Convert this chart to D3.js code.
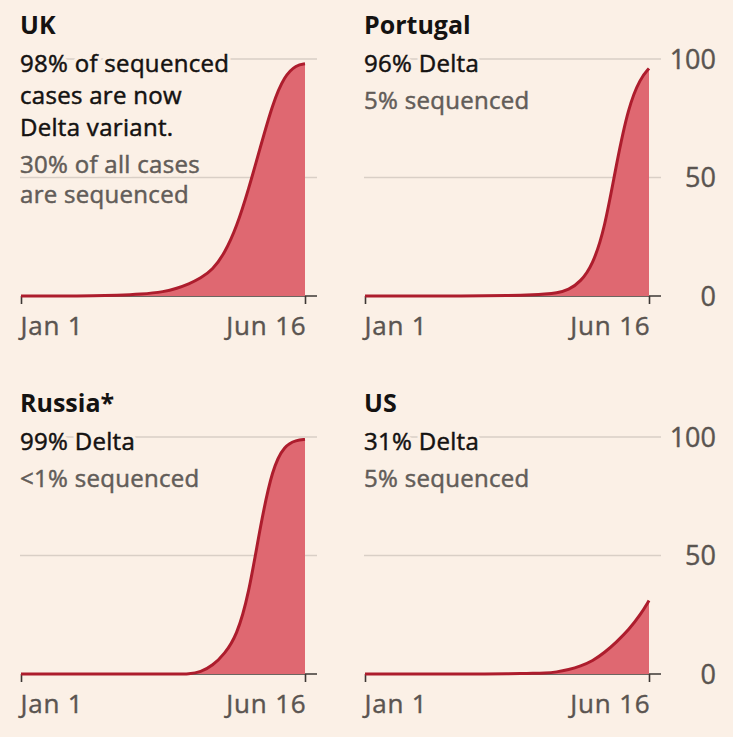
<!DOCTYPE html>
<html>
<head>
<meta charset="utf-8">
<script src="https://cdn.jsdelivr.net/npm/d3@7"></script>
<style>
  body { margin: 0; background: #fbf0e6; }
  text { font-family: "Open Sans", Lato, sans-serif; }
</style>
</head>
<body>
<div id="container"></div>
<script>
let w = 733;
let h = 737;

// data
let dates = ["2021-01-01", "2021-01-15", "2021-01-29", "2021-02-12", "2021-02-26", "2021-03-12",
  "2021-03-26", "2021-04-02", "2021-04-09", "2021-04-16", "2021-04-23", "2021-04-30",
  "2021-05-07", "2021-05-14", "2021-05-21", "2021-05-28", "2021-06-04", "2021-06-11", "2021-06-16"];

let ukValues =       [0, 0, 0, 0.1, 0.3, 0.7, 1.8, 3.2, 5, 7.5, 11, 18, 29, 45, 63, 81, 93, 97.5, 98];
let portugalValues = [0, 0, 0, 0, 0, 0.1, 0.2, 0.3, 0.5, 0.8, 1.2, 2.5, 6, 13, 28, 56, 80, 92, 96];
let russiaValues =   [0, 0, 0, 0, 0, 0, 0, 0, 0, 0.8, 3.5, 8.5, 16, 33, 63, 87, 96.5, 98.7, 99];
let usValues =       [0, 0, 0, 0, 0, 0, 0.1, 0.2, 0.3, 0.4, 0.8, 1.8, 3.3, 5.5, 9, 13.5, 18.5, 25, 31];

let countries = ["UK", "Portugal", "Russia*", "US"];
let mainNotes = [
  ["98% of sequenced", "cases are now", "Delta variant."],
  ["96% Delta"],
  ["99% Delta"],
  ["31% Delta"]
];
let subNotes = [
  ["30% of all cases", "are sequenced"],
  ["5% sequenced"],
  ["<1% sequenced"],
  ["5% sequenced"]
];
let xTickDates = ["2021-01-01", "2021-06-16"];
let xTickLabels = ["Jan 1", "Jun 16"];
let yTicks = [0, 50, 100];

let allValues = [ukValues, portugalValues, russiaValues, usValues];

let parseDate = d3.timeParse("%Y-%m-%d");
let bg = "#fbf0e6";

let viz = d3.select("#container")
  .append("svg")
    .attr("width", w)
    .attr("height", h)
    .style("background-color", bg);

let panelLeft = [21, 365, 21, 365];
let panelBase = [296, 296, 674, 674];
let plotW = 284;
let plotH = 237;

// text with a background halo behind it so gridlines stop short of it
function note(g, x, y, t, color){
  g.append("text")
    .attr("x", x).attr("y", y)
    .attr("fill", bg)
    .attr("stroke", bg)
    .attr("stroke-width", 7)
    .style("font-size", "24px")
    .style("letter-spacing", "0.3px")
    .text(t);
  g.append("text")
    .attr("x", x).attr("y", y)
    .attr("fill", color)
    .attr("stroke", color)
    .attr("stroke-width", 0.5)
    .style("font-size", "24px")
    .style("letter-spacing", "0.3px")
    .text(t);
}

countries.forEach(function(name, i){
  let x0 = panelLeft[i];
  let base = panelBase[i];
  let g = viz.append("g");

  let data = dates.map(function(d, j){
    return { date: parseDate(d), value: allValues[i][j] };
  });

  let xScale = d3.scaleTime()
    .domain([parseDate(dates[0]), parseDate(dates[dates.length - 1])])
    .range([x0, x0 + plotW]);
  let yScale = d3.scaleLinear().domain([0, 100]).range([base, base - plotH]);

  // gridlines
  g.selectAll(".grid")
    .data([50, 100])
    .enter()
    .append("line")
      .attr("x1", x0 - 1)
      .attr("x2", x0 + plotW + 12)
      .attr("y1", function(d){ return yScale(d); })
      .attr("y2", function(d){ return yScale(d); })
      .attr("stroke", "#d9cfc6")
      .attr("stroke-width", 1.3);

  // right hand labels only on right column
  if (i % 2 == 1) {
    g.selectAll(".ylab")
      .data(yTicks)
      .enter()
      .append("text")
        .attr("x", x0 + 351)
        .attr("y", function(d){ return yScale(d); })
        .attr("dy", "0.36em")
        .attr("text-anchor", "end")
        .attr("fill", "#5a5450")
        .attr("stroke", "#5a5450")
        .attr("stroke-width", 0.4)
        .style("font-size", "27px")
        .text(function(d){ return d; });
  }

  // area + line
  let area = d3.area()
    .x(function(d){ return xScale(d.date); })
    .y0(yScale(0))
    .y1(function(d){ return yScale(d.value); })
    .curve(d3.curveBasis);
  let line = d3.line()
    .x(function(d){ return xScale(d.date); })
    .y(function(d){ return yScale(d.value); })
    .curve(d3.curveBasis);

  // axis
  let xAxis = d3.axisBottom(xScale)
    .tickValues(xTickDates.map(parseDate))
    .tickFormat(function(d, k){ return xTickLabels[k]; })
    .tickSize(8)
    .tickSizeOuter(0)
    .tickPadding(13);
  let xAxisGroup = g.append("g")
    .attr("transform", "translate(0," + base + ")")
    .call(xAxis);
  xAxisGroup.select(".domain").remove();
  xAxisGroup.selectAll(".tick line").attr("stroke", "#3d3835").attr("stroke-width", 1.6);
  xAxisGroup.selectAll(".tick text")
    .attr("fill", "#5a5450")
    .attr("stroke", "#5a5450")
    .attr("stroke-width", 0.4)
    .style("font-size", "26px")
    .style("letter-spacing", "0.8px")
    .style("font-family", "'Open Sans', Lato, sans-serif")
    .attr("text-anchor", function(d, k){ return k == 0 ? "start" : "end"; })
    .attr("dx", function(d, k){ return k == 0 ? -1 : 1; });
  g.append("line")
    .attr("x1", x0)
    .attr("x2", x0 + plotW + 12)
    .attr("y1", base)
    .attr("y2", base)
    .attr("stroke", "#3d3835")
    .attr("stroke-width", 1.6);

  g.append("path")
    .datum(data)
    .attr("d", area)
    .attr("fill", "#df6871");
  g.append("path")
    .datum(data)
    .attr("d", line)
    .attr("fill", "none")
    .attr("stroke", "#ad1d2d")
    .attr("stroke-width", 3);

  // titles and notes
  let textX = x0 - 1;
  let titleY = base - 262;
  g.append("text")
    .attr("x", textX)
    .attr("y", titleY)
    .attr("fill", "#141211")
    .style("font-size", "25px")
    .style("font-weight", "bold")
    .text(name);

  let y = titleY + 38;
  mainNotes[i].forEach(function(t){
    note(g, textX, y, t, "#141211");
    y += 32;
  });
  y += 5;
  subNotes[i].forEach(function(t){
    note(g, textX, y, t, "#625c58");
    y += 30;
  });
});
</script>
</body>
</html>
